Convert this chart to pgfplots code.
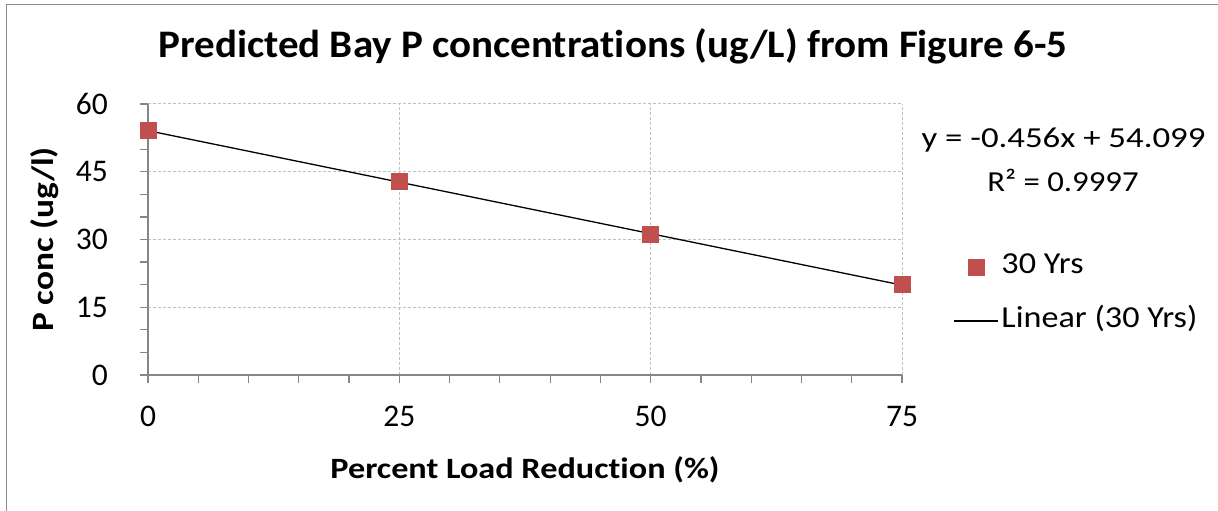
\documentclass[border=0pt]{standalone}
\usepackage{fontspec}
\setmainfont{Carlito}[Ligatures=NoCommon]
\usepackage{graphicx}
\usepackage{pgfplots}
\pgfplotsset{compat=1.18}
\definecolor{mred}{HTML}{C0504D}
\definecolor{axgray}{HTML}{868686}
\definecolor{gridgray}{HTML}{BFBFBF}
\definecolor{frame}{HTML}{8C8C8C}
\pgfplotsset{
  marklegend/.style={legend image code/.code={\draw[mark repeat=2,mark phase=2,##1] plot coordinates {(0pt,0pt) (22pt,0pt) (44pt,0pt)};}},
  linelegend/.style={legend image code/.code={\draw[##1] (0pt,0pt) -- (44pt,0pt);}},
}
\begin{document}
\begin{tikzpicture}[x=1pt,y=1pt]
\path[use as bounding box] (0,0) rectangle (1218,511);
\draw[frame, line width=1.5pt] (6.5,0) -- (6.5,506.5) -- (1218,506.5);
\node[font=\fontsize{39}{44}\selectfont\bfseries, anchor=base, inner sep=0pt] at (613,453) {\scalebox{1.052}[1]{Predicted Bay P concentrations (ug/L) from Figure 6-5}};
\node[font=\fontsize{29}{34}\selectfont, anchor=base, inner sep=0pt] at (1063.5,363) {\scalebox{1.2}[1]{y = -0.456x + 54.099}};
\node[font=\fontsize{29}{34}\selectfont, anchor=base, inner sep=0pt] at (1063,319) {\scalebox{1.13}[1]{R² = 0.9997}};
\begin{axis}[
  at={(148pt,136pt)}, anchor=south west,
  scale only axis, width=754pt, height=271pt,
  xmin=0, xmax=75, ymin=0, ymax=60,
  xtick={0,25,50,75}, ytick={0,15,30,45,60},
  minor x tick num=4, minor y tick num=2,
  axis x line*=bottom, axis y line*=left,
  axis line style={axgray, line width=1.2pt, -},
  tick align=outside, major tick length=8pt, minor tick length=8pt,
  tick style={axgray, line width=1.2pt},
  grid=major, major grid style={gridgray, dash pattern=on 3pt off 2pt, line width=1pt},
  /pgf/number format/assume math mode=true,
  tick label style={font=\fontsize{31.5}{36}\selectfont, text=black},
  xticklabel style={anchor=base, yshift=-44pt},
  yticklabel style={anchor=east, inner sep=0pt, xshift=-32pt},
  xlabel={\scalebox{1.16}[1]{Percent Load Reduction (\%)}},
  ylabel={\scalebox{1.14}[1]{P conc (ug/l)}},
  every axis x label/.style={at={(axis description cs:0.5,-0.3801)}, anchor=base, inner sep=0pt, font=\fontsize{29.5}{34}\selectfont\bfseries},
  every axis y label/.style={at={(axis description cs:-0.1366,0.5)}, rotate=90, anchor=center, inner sep=0pt, font=\fontsize{31}{36}\selectfont\bfseries},
  legend style={draw=none, fill=none, inner sep=0pt, row sep=28pt, column sep=3pt,
    font=\fontsize{30.5}{34}\selectfont,
    nodes={inner sep=0pt, text height=20pt, text depth=6pt},
    at={(axis description cs:1.0676,0.299)}, anchor=west},
  legend cell align=left,
]
\addplot[only marks, mark=square*, mark size=8pt, mark options={draw=mred, fill=mred}, marklegend]
  coordinates {(0,54.1) (25,42.9) (50,31.2) (75,20.1)};
\addlegendentry{\scalebox{1.12}[1]{30 Yrs}}
\addplot[black, line width=1.3pt, mark=none, linelegend]
  coordinates {(0,54.099) (75,19.899)};
\addlegendentry{\scalebox{1.12}[1]{Linear (30 Yrs)}}
\end{axis}
\end{tikzpicture}
\end{document}
